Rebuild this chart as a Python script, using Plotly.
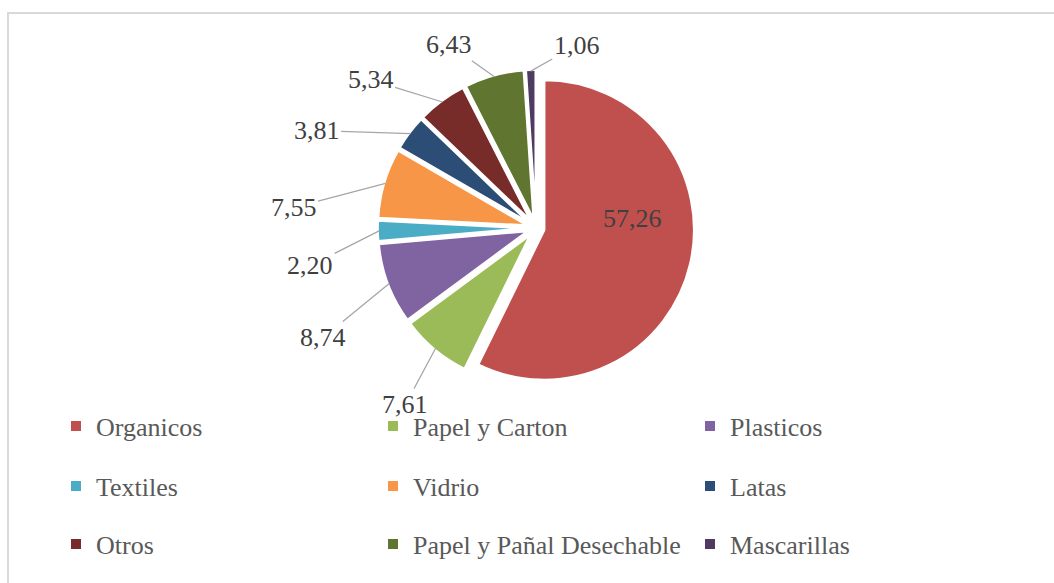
import math
import plotly.graph_objects as go

# ---------------- data ----------------
categories = ["Organicos", "Papel y Carton", "Plasticos", "Textiles", "Vidrio",
              "Latas", "Otros", "Papel y Pañal Desechable", "Mascarillas"]
values = [57.26, 7.61, 8.74, 2.20, 7.55, 3.81, 5.34, 6.43, 1.06]
colors = ["#C0504D", "#9BBB59", "#8064A2", "#4BACC6", "#F79646",
          "#2C4D75", "#772C2A", "#5F7530", "#4D3B62"]

# ---------------- layout settings ----------------
W, H = 1054, 583
pie_cx, pie_cy = 536, 228          # pixel centre of the pie domain
pie_r = 150                        # slice radius in px
pull = 0.056
pie_box = 2 * pie_r * (1 + pull)   # plotly: r = box / (2 * (1 + maxPull))
# pixel offset of each value label from its anchor on the slice's outer arc
label_offsets = [(-56, -45), (-30, 56), (-66, 54), (-69, 35), (-92, 24),
                 (-94, -3), (-72, -22), (-45, -32), (46, -26)]
label_inside = [True] + [False] * 8
FONT = "Liberation Serif, Times New Roman, serif"

dom_x = [(pie_cx - pie_box / 2) / W, (pie_cx + pie_box / 2) / W]
dom_y = [1 - (pie_cy + pie_box / 2) / H, 1 - (pie_cy - pie_box / 2) / H]

fig = go.Figure()
fig.add_trace(go.Pie(
    labels=categories, values=values, sort=False, direction="clockwise", rotation=0,
    marker=dict(colors=colors, line=dict(width=2.5, color="white")),
    pull=[pull] * len(values), textposition="none",
    domain=dict(x=dom_x, y=dom_y), showlegend=False, hoverinfo="label+value",
))

# value labels, anchored on each slice's outer arc at its bisector
total = sum(values)
R = pie_box / 2 - 1.5
cum = 0.0
annotations = []
for v, off, inside in zip(values, label_offsets, label_inside):
    mid = (cum + v / 2) / total * 2 * math.pi
    cum += v
    px = pie_cx + R * math.sin(mid)
    py = pie_cy - R * math.cos(mid)
    txt = f"{v:.2f}".replace(".", ",")
    base = dict(x=px / W, y=1 - py / H, xref="paper", yref="paper", text=txt,
                font=dict(family=FONT, size=26, color="#404040"))
    if inside:
        base.update(showarrow=False, xshift=off[0], yshift=-off[1],
                    xanchor="center", yanchor="middle")
    else:
        base.update(showarrow=True, arrowhead=0, arrowwidth=1.3,
                    arrowcolor="#A6A6A6", ax=off[0], ay=off[1],
                    standoff=0, startstandoff=0)
    annotations.append(base)

# legend: three rows of three entries
legend_rows_y = [426, 486, 544]
legend_names = ["legend", "legend2", "legend3"]
for i, (cat, col) in enumerate(zip(categories, colors)):
    fig.add_trace(go.Scatter(
        x=[None], y=[None], mode="markers", name=cat,
        marker=dict(symbol="square", size=10, color=col),
        legend=legend_names[i // 3], showlegend=True, hoverinfo="skip",
    ))

legend_common = dict(
    orientation="h", xanchor="left", yanchor="middle", x=56 / W,
    entrywidth=272, entrywidthmode="pixels", bgcolor="rgba(0,0,0,0)",
    font=dict(family=FONT, size=26, color="#595959"), itemclick=False,
    itemdoubleclick=False, borderwidth=0,
)

fig.update_layout(
    width=W, height=H, margin=dict(l=0, r=0, t=0, b=0),
    paper_bgcolor="white", plot_bgcolor="white", separators=",.",
    xaxis=dict(visible=False), yaxis=dict(visible=False),
    annotations=annotations,
    legend=dict(legend_common, y=1 - legend_rows_y[0] / H),
    legend2=dict(legend_common, y=1 - legend_rows_y[1] / H),
    legend3=dict(legend_common, y=1 - legend_rows_y[2] / H),
    shapes=[dict(type="rect", xref="paper", yref="paper",
                 x0=8 / W, x1=1.05, y0=-0.05, y1=1 - 13 / H,
                 line=dict(color="#D9D9D9", width=2), fillcolor="rgba(0,0,0,0)",
                 layer="below")],
)

fig.write_html("out.html")
